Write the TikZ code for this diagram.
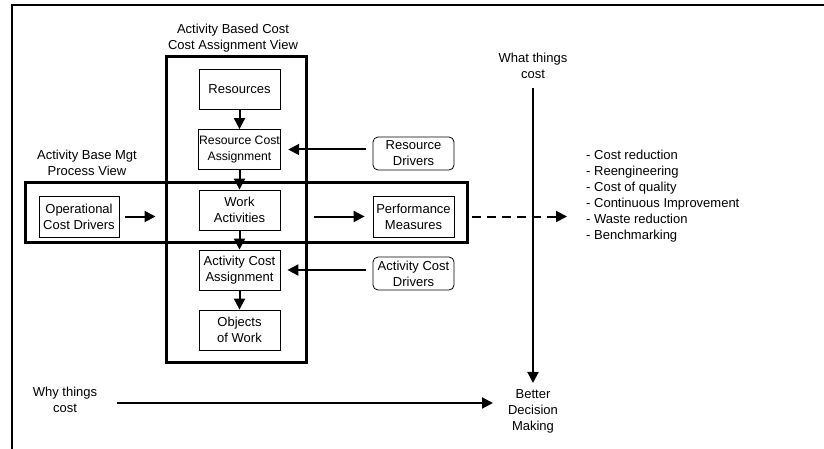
\documentclass[tikz,border=0pt]{standalone}
\usepackage{fontspec}
\setmainfont{Liberation Sans}
\usetikzlibrary{calc,arrows.meta}

\begin{document}
\begin{tikzpicture}[x=1pt,y=-1pt,
		txt/.style={font=\fontsize{13}{16}\selectfont, align=center, inner sep=1pt},
		box/.style={txt, draw, line width=0.8pt, minimum width=81pt, minimum height=40pt},
		rbox/.style={box, rounded corners=5pt, minimum height=33pt},
		bigbox/.style={draw, line width=3pt, inner sep=0pt},
		arw/.style={-{Triangle[length=11pt,width=11pt]}, line width=2pt}]
		\useasboundingbox (0,0) rectangle (824,449);
		%Frame
		\draw [line width=1.4pt] (12,449) -- (12,5) -- (824,5);
		%Big boxes
		\node [bigbox, minimum width=140pt, minimum height=305pt] (abc) at (236,209.5) {};
		\node [bigbox, minimum width=442pt, minimum height=59pt] (abm) at (246,212.5) {};
		%Titles
		\node [txt] (abctitle) at (233,38) {Activity Based Cost\\Cost Assignment View};
		\node [txt] (abmtitle) at (87,163) {Activity Base Mgt\\Process View};
		%Cost assignment column
		\node [box] (res) at (239.5,89) {Resources};
		\node [box, font=\fontsize{12.2}{16}\selectfont] (rca) at (239.5,149.5) {Resource Cost\\Assignment};
		\node [box] (wa) at (239.5,210) {Work\\Activities};
		\node [box] (aca) at (239.5,270) {Activity Cost\\Assignment};
		\node [box] (oow) at (239.5,330) {Objects\\of Work};
		%Drivers and measures
		\node [box, minimum width=80pt, minimum height=41pt] (ocd) at (79,216.5) {Operational\\Cost Drivers};
		\node [box, minimum height=41pt] (pm) at (413.5,216.5) {Performance\\Measures};
		\node [rbox] (rd) at (413.5,153.5) {Resource\\Drivers};
		\node [rbox] (acd) at (413.5,273.5) {Activity Cost\\Drivers};
		%Side labels
		\node [txt] (what) at (533,66) {What things\\cost};
		\node [txt] (better) at (533,411) {Better\\Decision\\Making};
		\node [txt] (why) at (65,400) {Why things\\cost};
		\node [txt, anchor=north west, align=left] (uses) at (585,149) {- Cost reduction\\- Reengineering\\- Cost of quality\\- Continuous Improvement\\- Waste reduction\\- Benchmarking};
		\coordinate (dashend) at (567,216.5);
		\coordinate (whyend) at (493,403);
		%Arrows
		\draw [arw] (res) -- (rca);
		\draw [arw] (rca) -- (wa);
		\draw [arw] (wa) -- (aca);
		\draw [arw] (aca) -- (oow);
		\draw [arw, shorten <=7pt, shorten >=7pt] (rd.west |- rca) -- (rca);
		\draw [arw, shorten <=7pt, shorten >=7pt] (acd.west |- aca) -- (aca);
		\draw [arw, shorten <=6pt, shorten >=9pt] (ocd) -- (abc.west |- ocd);
		\draw [arw, shorten <=6pt, shorten >=8pt] (abc.east |- pm) -- (pm);
		\draw [arw, dashed, dash pattern=on 9pt off 6pt, shorten <=3pt] (abm.east |- dashend) -- (dashend);
		\draw [arw, shorten <=8pt, shorten >=5pt] (what) -- (better);
		\draw [arw, shorten <=19pt] (why.east |- whyend) -- (whyend);
	\end{tikzpicture}
\end{document}
